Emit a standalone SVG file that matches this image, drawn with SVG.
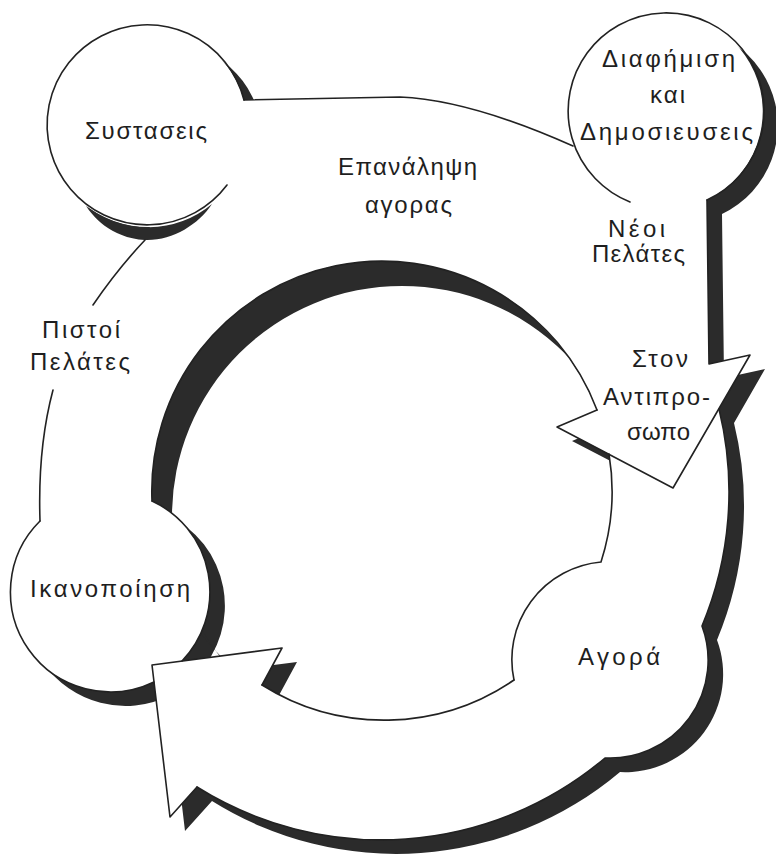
<svg xmlns="http://www.w3.org/2000/svg" xmlns:xlink="http://www.w3.org/1999/xlink" width="776" height="856" viewBox="0 0 776 856">
<style>
.sh{fill:#2b2b2b;stroke:none}
.wh{fill:#ffffff;stroke:none}
.ln{fill:none;stroke:#222;stroke-width:1.6;stroke-linejoin:round;stroke-linecap:round}
.lb{font-family:"Liberation Sans","DejaVu Sans",sans-serif;font-size:24px;fill:#1e1e1e}
</style>
<defs>
<path id="band" fill-rule="evenodd" d="M244,100 L400,97 Q470,100 573,146 A98,98 0 1 1 707,200 L709,364 L750,355 L719,409 A347,347 0 0 1 702,626 A98,98 0 0 1 605,758 A347,347 0 0 1 197,787 L170,817 L154,682 A100,100 0 0 1 40,521 C38,460 45,420 53,390 C65,360 78,330 93,305 C110,280 128,258 145,240 L150,227 A100,100 0 1 1 244,100 Z M597,410 A230,230 0 0 0 152,501 A100,100 0 0 1 182,661 L282,648 L262,685 A230,230 0 0 0 514,680 A98,98 0 0 1 601,562 A230,230 0 0 0 609,454 L557,427 Z"/>
</defs>
<rect width="776" height="856" fill="#ffffff"/>
<g id="shadows">
<use xlink:href="#band" href="#band" class="sh" fill-rule="evenodd" transform="translate(15,14)"/>
<path class="sh" fill-rule="evenodd" d="M152,492 a230,230 0 1,0 460,0 a230,230 0 1,0 -460,0 Z M172,516 a230,230 0 1,0 460,0 a230,230 0 1,0 -460,0 Z"/>
</g>
<g id="body">
<use xlink:href="#band" href="#band" class="wh" fill-rule="evenodd"/>
<path class="sh" d="M212,204 A100,100 0 0 1 86,206 C92,215 110,238 145,240 C172,241 198,225 212,204 Z"/>
<circle class="wh" cx="148" cy="127" r="99"/>
</g>
<g id="connectors">
<path class="ln" stroke-width="2.4" d="M244,100 L400,97 Q470,100 573,146"/>
<path class="ln" d="M145,240 C128,258 110,280 93,305"/>
<path class="ln" d="M53,390 C45,420 38,460 40,521"/>
<path class="ln" d="M262,685 L282,648 L152,665 L170,817 L197,787"/>
<path class="ln" d="M262,685 A230,230 0 0 0 514,680"/>
<path class="ln" d="M514,680 A98,98 0 0 1 601,562 A230,230 0 0 0 609,454"/>
<path class="ln" d="M707,200 L709,364 L750,355 L673,488 L557,427 L597,410"/>
<path class="ln" d="M597,410 A230,230 0 0 0 152,501"/>
<path class="ln" d="M719,409 A347,347 0 0 1 702,626 A98,98 0 0 1 605,758 A347,347 0 0 1 197,787"/>
</g>
<g id="node-systaseis">
<path class="ln" d="M227,185 A100,100 0 1 1 244,100"/>
<text class="lb" x="85" y="139" textLength="122" lengthAdjust="spacing">Συστασεις</text>
</g>
<g id="node-diafimisi">
<path class="ln" stroke-width="1.3" d="M630,202 A98,98 0 1 1 707,200"/>
<text class="lb" x="602" y="67" textLength="133" lengthAdjust="spacing">Διαφήμιση</text>
<text class="lb" x="650" y="103" textLength="35" lengthAdjust="spacing">και</text>
<text class="lb" x="580" y="140" textLength="173" lengthAdjust="spacing">Δημοσιευσεις</text>
</g>
<g id="node-antiprosopo">
<text class="lb" x="632" y="367" textLength="56" lengthAdjust="spacing">Στον</text>
<text class="lb" x="603" y="405" textLength="107" lengthAdjust="spacing">Αντιπρο-</text>
<text class="lb" x="627" y="440" textLength="63" lengthAdjust="spacing">σωπο</text>
</g>
<g id="node-agora">
<text class="lb" x="578" y="665" textLength="82" lengthAdjust="spacing">Αγορά</text>
</g>
<g id="node-ikanopoiisi">
<path class="ln" d="M40,521 A100,100 0 0 0 154,682"/>
<path class="ln" d="M152,501 A100,100 0 0 1 182,661"/>
<text class="lb" x="30" y="597" textLength="160" lengthAdjust="spacing">Ικανοποίηση</text>
</g>
<g id="labels">
<text class="lb" x="338" y="175" textLength="139" lengthAdjust="spacing">Επανάληψη</text>
<text class="lb" x="365" y="213" textLength="87" lengthAdjust="spacing">αγορας</text>
<text class="lb" x="608" y="237" textLength="57" lengthAdjust="spacing">Νέοι</text>
<text class="lb" x="592" y="262" textLength="93" lengthAdjust="spacing">Πελάτες</text>
<text class="lb" x="42" y="338" textLength="78" lengthAdjust="spacing">Πιστοί</text>
<text class="lb" x="30" y="370" textLength="100" lengthAdjust="spacing">Πελάτες</text>
</g>
</svg>
